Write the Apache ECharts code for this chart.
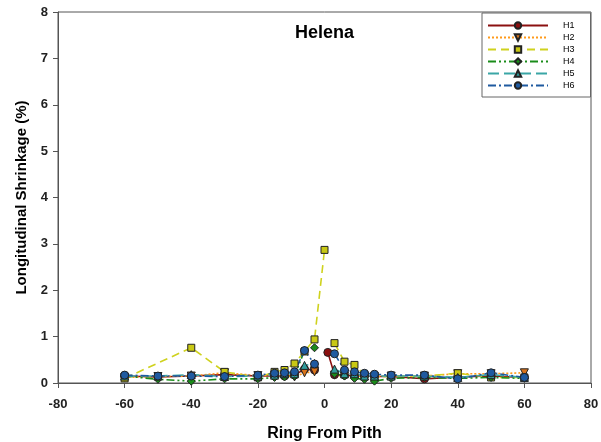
<!DOCTYPE html>
<html>
<head>
<meta charset="UTF-8">
<script src="https://cdn.jsdelivr.net/npm/echarts@6/dist/echarts.min.js"></script>
<style>
  html, body { margin: 0; padding: 0; background: #fff; }
  #main { width: 601px; height: 442px; }
</style>
</head>
<body>
<div id="main"></div>
<script>
// ring positions (null in a series = no point there)
var rings = [-60, -50, -40, -30, -20, -15, -12, -9, -6, -3, 0, 1, 3, 6, 9, 12, 15, 20, 30, 40, 50, 60];

var h1 = [0.15, 0.13, 0.15, 0.18, 0.15, 0.15, 0.15, 0.17, 0.30, 0.28, null, 0.66, 0.18, 0.17, 0.15, 0.15, 0.14, 0.14, 0.09, 0.13, 0.15, 0.12];
var h2 = [0.12, 0.14, 0.15, 0.22, 0.16, 0.17, 0.16, 0.13, 0.22, 0.24, null, null, 0.17, 0.15, 0.16, 0.14, 0.14, 0.15, 0.15, 0.20, 0.20, 0.22];
var h3 = [0.10, null, 0.76, 0.24, 0.12, 0.24, 0.28, 0.42, 0.68, 0.94, 2.87, null, 0.86, 0.46, 0.39, 0.18, 0.12, 0.15, 0.15, 0.21, 0.12, 0.12];
var h4 = [0.15, 0.08, 0.04, 0.09, 0.09, 0.12, 0.13, 0.15, 0.70, 0.76, null, null, 0.20, 0.15, 0.10, 0.08, 0.04, 0.10, 0.12, 0.10, 0.12, 0.10];
var h5 = [0.15, 0.15, 0.18, 0.14, 0.15, 0.17, 0.20, 0.20, 0.38, 0.42, null, null, 0.30, 0.20, 0.20, 0.15, 0.15, 0.15, 0.15, 0.12, 0.18, 0.12];
var h6 = [0.17, 0.15, 0.15, 0.14, 0.17, 0.21, 0.22, 0.24, 0.70, 0.41, null, null, 0.63, 0.28, 0.24, 0.21, 0.19, 0.17, 0.17, 0.09, 0.22, 0.12];

var names = ['H1', 'H2', 'H3', 'H4', 'H5', 'H6'];
var xTicks = [-80, -60, -40, -20, 0, 20, 40, 60, 80];
var yTicks = [0, 1, 2, 3, 4, 5, 6, 7, 8];

// pair up with ring positions, leave a gap across the pith
function pairs(vals) {
  var out = [], left = true;
  for (var i = 0; i < rings.length; i++) {
    if (vals[i] == null) continue;
    if (left && rings[i] > 0) { out.push([0.5, null]); left = false; }
    out.push([rings[i], vals[i]]);
  }
  return out;
}

function mkSeries(name, vals, color, fill, dash, symbol, rot) {
  return {
    name: name,
    type: 'line',
    data: pairs(vals),
    connectNulls: false,
    symbol: symbol,
    symbolRotate: rot || 0,
    symbolSize: symbol === 'rect' ? 7 : 8,
    lineStyle: { color: color, width: 1.6, type: dash },
    itemStyle: { color: fill, borderColor: '#222', borderWidth: 1 },
    emphasis: { disabled: true }
  };
}

var chart = echarts.init(document.getElementById('main'));
chart.setOption({
  animation: false,
  backgroundColor: '#fff',
  title: {
    text: 'Helena',
    left: 290,
    top: 19,
    textStyle: { fontFamily: 'Liberation Sans', fontWeight: 'bold', fontSize: 18, color: '#000' }
  },
  legend: {
    data: names,
    orient: 'vertical',
    left: 482,
    top: 13,
    itemWidth: 60,
    itemHeight: 8,
    itemGap: 3,
    padding: [8, 16, 7, 5],
    borderColor: '#666',
    borderWidth: 1,
    backgroundColor: '#fff',
    textStyle: { fontFamily: 'Liberation Sans', fontSize: 9, color: '#000', padding: [0, 0, 0, 10] }
  },
  grid: {
    left: 58, right: 10, top: 12, bottom: 59,
    outerBoundsMode: 'none',
    show: true, borderColor: '#555', borderWidth: 1
  },
  xAxis: {
    type: 'value',
    min: -80, max: 80, interval: 20,
    name: 'Ring From Pith',
    nameLocation: 'middle',
    nameGap: 43,
    nameTextStyle: { fontFamily: 'Liberation Sans', fontWeight: 'bold', fontSize: 16, color: '#000' },
    axisLine: { onZero: false, lineStyle: { color: '#555' } },
    axisTick: { inside: false, length: 5, lineStyle: { color: '#555' } },
    axisLabel: {
      margin: 15,
      fontFamily: 'Liberation Sans', fontWeight: 'bold', fontSize: 13, color: '#222',
      formatter: function (v) { return xTicks.indexOf(v) >= 0 ? String(v) : ''; }
    },
    splitLine: { show: false }
  },
  yAxis: {
    type: 'value',
    min: 0, max: 8, interval: 1,
    name: 'Longitudinal Shrinkage (%)',
    nameLocation: 'middle',
    nameGap: 29,
    nameTextStyle: { fontFamily: 'Liberation Sans', fontWeight: 'bold', fontSize: 15, color: '#000' },
    axisLine: { show: true, onZero: false, lineStyle: { color: '#555' } },
    axisTick: { show: true, inside: false, length: 5, lineStyle: { color: '#555' } },
    axisLabel: {
      margin: 10,
      fontFamily: 'Liberation Sans', fontWeight: 'bold', fontSize: 13, color: '#222',
      formatter: function (v) { return yTicks.indexOf(v) >= 0 ? String(v) : ''; }
    },
    splitLine: { show: false }
  },
  series: [
    mkSeries(names[0], h1, '#8b1010', '#8b1010', 'solid', 'circle'),
    mkSeries(names[1], h2, '#ff9a1a', '#d9731a', [2, 2], 'triangle', 180),
    mkSeries(names[2], h3, '#cfd21e', '#c8c814', [8, 5], 'rect'),
    mkSeries(names[3], h4, '#1a8c1a', '#1a8c1a', [8, 3, 2, 3, 2, 3], 'diamond'),
    mkSeries(names[4], h5, '#3aa6a6', '#2f9c9c', [11, 5], 'triangle'),
    mkSeries(names[5], h6, '#1f5aa0', '#1f5aa0', [8, 3, 2, 3], 'circle')
  ]
});
</script>
</body>
</html>
